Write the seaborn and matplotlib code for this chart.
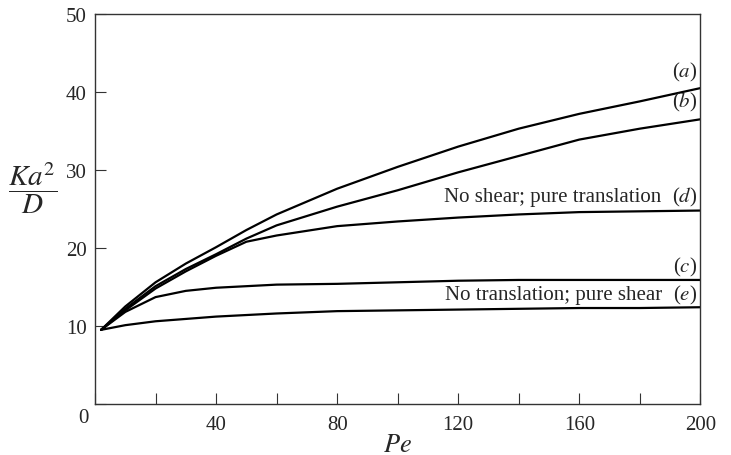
import numpy as np
import pandas as pd
import matplotlib
matplotlib.use("Agg")
import matplotlib.pyplot as plt
import seaborn as sns

# Pe grid and curve values
pe = [2, 10, 20, 30, 40, 50, 60, 80, 100, 120, 140, 160, 180, 200]
curve_a = [9.5, 12.5, 15.6, 18.0, 20.1, 22.3, 24.3, 27.6, 30.4, 33.0, 35.3, 37.2, 38.8, 40.5]
curve_b = [9.5, 12.2, 15.1, 17.3, 19.2, 21.2, 22.9, 25.3, 27.4, 29.7, 31.8, 33.9, 35.3, 36.5]
curve_d = [9.5, 12.0, 14.8, 17.0, 19.0, 20.8, 21.6, 22.8, 23.4, 23.9, 24.3, 24.6, 24.7, 24.8]
curve_c = [9.5, 11.8, 13.7, 14.5, 14.9, 15.1, 15.3, 15.4, 15.6, 15.8, 15.9, 15.9, 15.9, 15.9]
curve_e = [9.5, 10.1, 10.6, 10.9, 11.2, 11.4, 11.6, 11.9, 12.0, 12.1, 12.2, 12.3, 12.3, 12.4]

curves = {"a": curve_a, "b": curve_b, "d": curve_d, "c": curve_c, "e": curve_e}

x_ticks = [0, 40, 80, 120, 160, 200]
x_minor = [20, 60, 100, 140, 180]
y_ticks = [0, 10, 20, 30, 40, 50]

sns.set_style("ticks")
plt.rcParams["font.family"] = ["Liberation Serif", "DejaVu Serif"]
plt.rcParams["mathtext.fontset"] = "stix"

fig = plt.figure(figsize=(7.31, 4.56), dpi=100)
ax = fig.add_axes([0.130, 0.112, 0.828, 0.855])

for name, vals in curves.items():
    df = pd.DataFrame({"Pe": pe, "K": vals})
    sns.lineplot(data=df, x="Pe", y="K", ax=ax, color="black", linewidth=1.6)

ax.set_xlim(0, 200)
ax.set_ylim(0, 50)
ax.set_xticks(x_ticks)
ax.set_xticklabels(["" if t == 0 else str(t) for t in x_ticks])
ax.set_xticks(x_minor, minor=True)
ax.set_yticks(y_ticks)
ax.set_yticklabels(["" if t == 0 else str(t) for t in y_ticks])
ax.tick_params(axis="both", which="both", direction="in", labelsize=15,
               length=8, width=0.8, color="#333333")
ax.tick_params(axis="x", pad=8)
ax.tick_params(axis="y", pad=6)
for s in ax.spines.values():
    s.set_linewidth(1.0)
    s.set_color("#333333")

# shared corner zero
ax.text(-12 / 605, -14 / 390, "0", transform=ax.transAxes, ha="center",
        va="center", fontsize=15)

ax.set_xlabel("$Pe$", fontsize=19, labelpad=0)
ax.set_ylabel("")
fig.text(33 / 731, 1 - 188 / 456, r"$\dfrac{Ka^2}{D}$", fontsize=21,
         ha="center", va="center")

lab_kw = dict(ha="right", va="center", fontsize=15)
ax.text(199, 42.6, "($a$)", **lab_kw)
ax.text(199, 38.8, "($b$)", **lab_kw)
ax.text(199, 26.6, "($d$)", **lab_kw)
ax.text(187, 26.6, "No shear; pure translation", **lab_kw)
ax.text(199, 17.6, "($c$)", **lab_kw)
ax.text(199, 14.0, "($e$)", **lab_kw)
ax.text(187.5, 14.0, "No translation; pure shear", **lab_kw)

fig.savefig("out.png", dpi=100)
